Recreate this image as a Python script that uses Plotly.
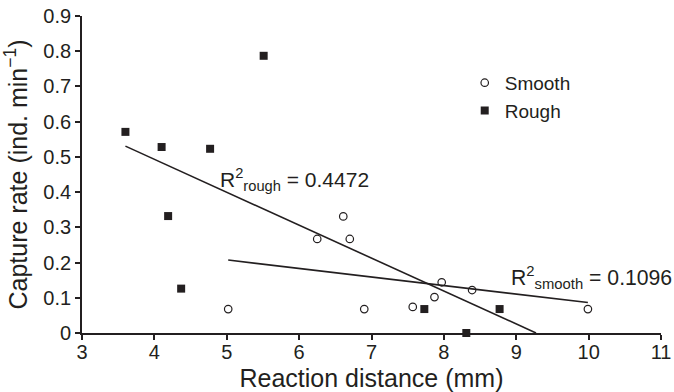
import numpy as np
import plotly.graph_objects as go

# Data
smooth_x = [5.02, 6.25, 6.61, 6.70, 6.90, 7.57, 7.87, 7.97, 8.39, 9.99]
smooth_y = [0.068, 0.267, 0.331, 0.267, 0.068, 0.074, 0.102, 0.144, 0.122, 0.068]
rough_x = [3.60, 4.10, 4.77, 5.51, 4.19, 4.37, 7.73, 8.77, 8.31]
rough_y = [0.571, 0.528, 0.523, 0.787, 0.332, 0.126, 0.068, 0.068, 0.0]
x_ticks = [3, 4, 5, 6, 7, 8, 9, 10, 11]
y_ticks = [0, 0.1, 0.2, 0.3, 0.4, 0.5, 0.6, 0.7, 0.8, 0.9]
r2_rough_label = "R<sup>2</sup><sub>rough</sub> = 0.4472"
r2_smooth_label = "R<sup>2</sup><sub>smooth</sub> = 0.1096"

# Linear regressions from the data
ms, bs = np.polyfit(smooth_x, smooth_y, 1)
mr, br = np.polyfit(rough_x, rough_y, 1)
sx_line = np.array([min(smooth_x), max(smooth_x)])
rx_line = np.array([min(rough_x), -br / mr])  # rough fit drawn down to zero

INK = "#231f20"
FONT = "Liberation Sans, Arial, Helvetica, sans-serif"

fig = go.Figure()
fig.add_trace(go.Scatter(x=sx_line, y=ms * sx_line + bs, mode="lines",
                         line=dict(color=INK, width=1.6), showlegend=False,
                         hoverinfo="skip"))
fig.add_trace(go.Scatter(x=rx_line, y=mr * rx_line + br, mode="lines",
                         line=dict(color=INK, width=1.6), showlegend=False,
                         hoverinfo="skip"))
fig.add_trace(go.Scatter(x=smooth_x, y=smooth_y, mode="markers", name="Smooth",
                         marker=dict(symbol="circle-open", size=7.5,
                                     color=INK, line=dict(width=1.2, color=INK))))
fig.add_trace(go.Scatter(x=rough_x, y=rough_y, mode="markers", name="Rough",
                         marker=dict(symbol="square", size=8, color=INK)))

fig.update_traces(cliponaxis=False)

fig.add_annotation(x=4.88, y=0.437, xref="x", yref="y", text=r2_rough_label,
                   showarrow=False, xanchor="left", yanchor="middle",
                   font=dict(family=FONT, size=21, color=INK))
fig.add_annotation(x=8.90, y=0.158, xref="x", yref="y", text=r2_smooth_label,
                   showarrow=False, xanchor="left", yanchor="middle",
                   font=dict(family=FONT, size=21.2, color=INK))

fig.update_layout(
    width=674, height=392,
    margin=dict(l=82, r=13, t=16, b=59, pad=0),
    paper_bgcolor="white", plot_bgcolor="white",
    font=dict(family=FONT, size=20, color=INK),
    legend=dict(x=0.661, y=0.849, xanchor="left", yanchor="top",
                bgcolor="rgba(0,0,0,0)", font=dict(size=19, color=INK),
                itemwidth=30, tracegroupgap=0),
    xaxis=dict(range=[3, 11], tickvals=x_ticks, ticks="outside", ticklen=5,
               tickwidth=1.5, tickcolor=INK, showline=True, linecolor=INK,
               linewidth=1.8, showgrid=False, zeroline=False,
               ticklabelstandoff=-5, automargin=False,
               tickfont=dict(size=20, color=INK),
               title=dict(text="Reaction distance (mm)", font=dict(size=25, color=INK))),
    yaxis=dict(range=[0, 0.9], tickvals=y_ticks, ticks="outside", ticklen=5,
               tickwidth=1.5, tickcolor=INK, showline=True, linecolor=INK,
               linewidth=1.8, showgrid=False, zeroline=False, automargin=False,
               tickfont=dict(size=20, color=INK),
               title=dict(text="Capture rate (ind. min<sup>−1</sup>)",
                          font=dict(size=25, color=INK))),
)

fig.write_html("out.html")
